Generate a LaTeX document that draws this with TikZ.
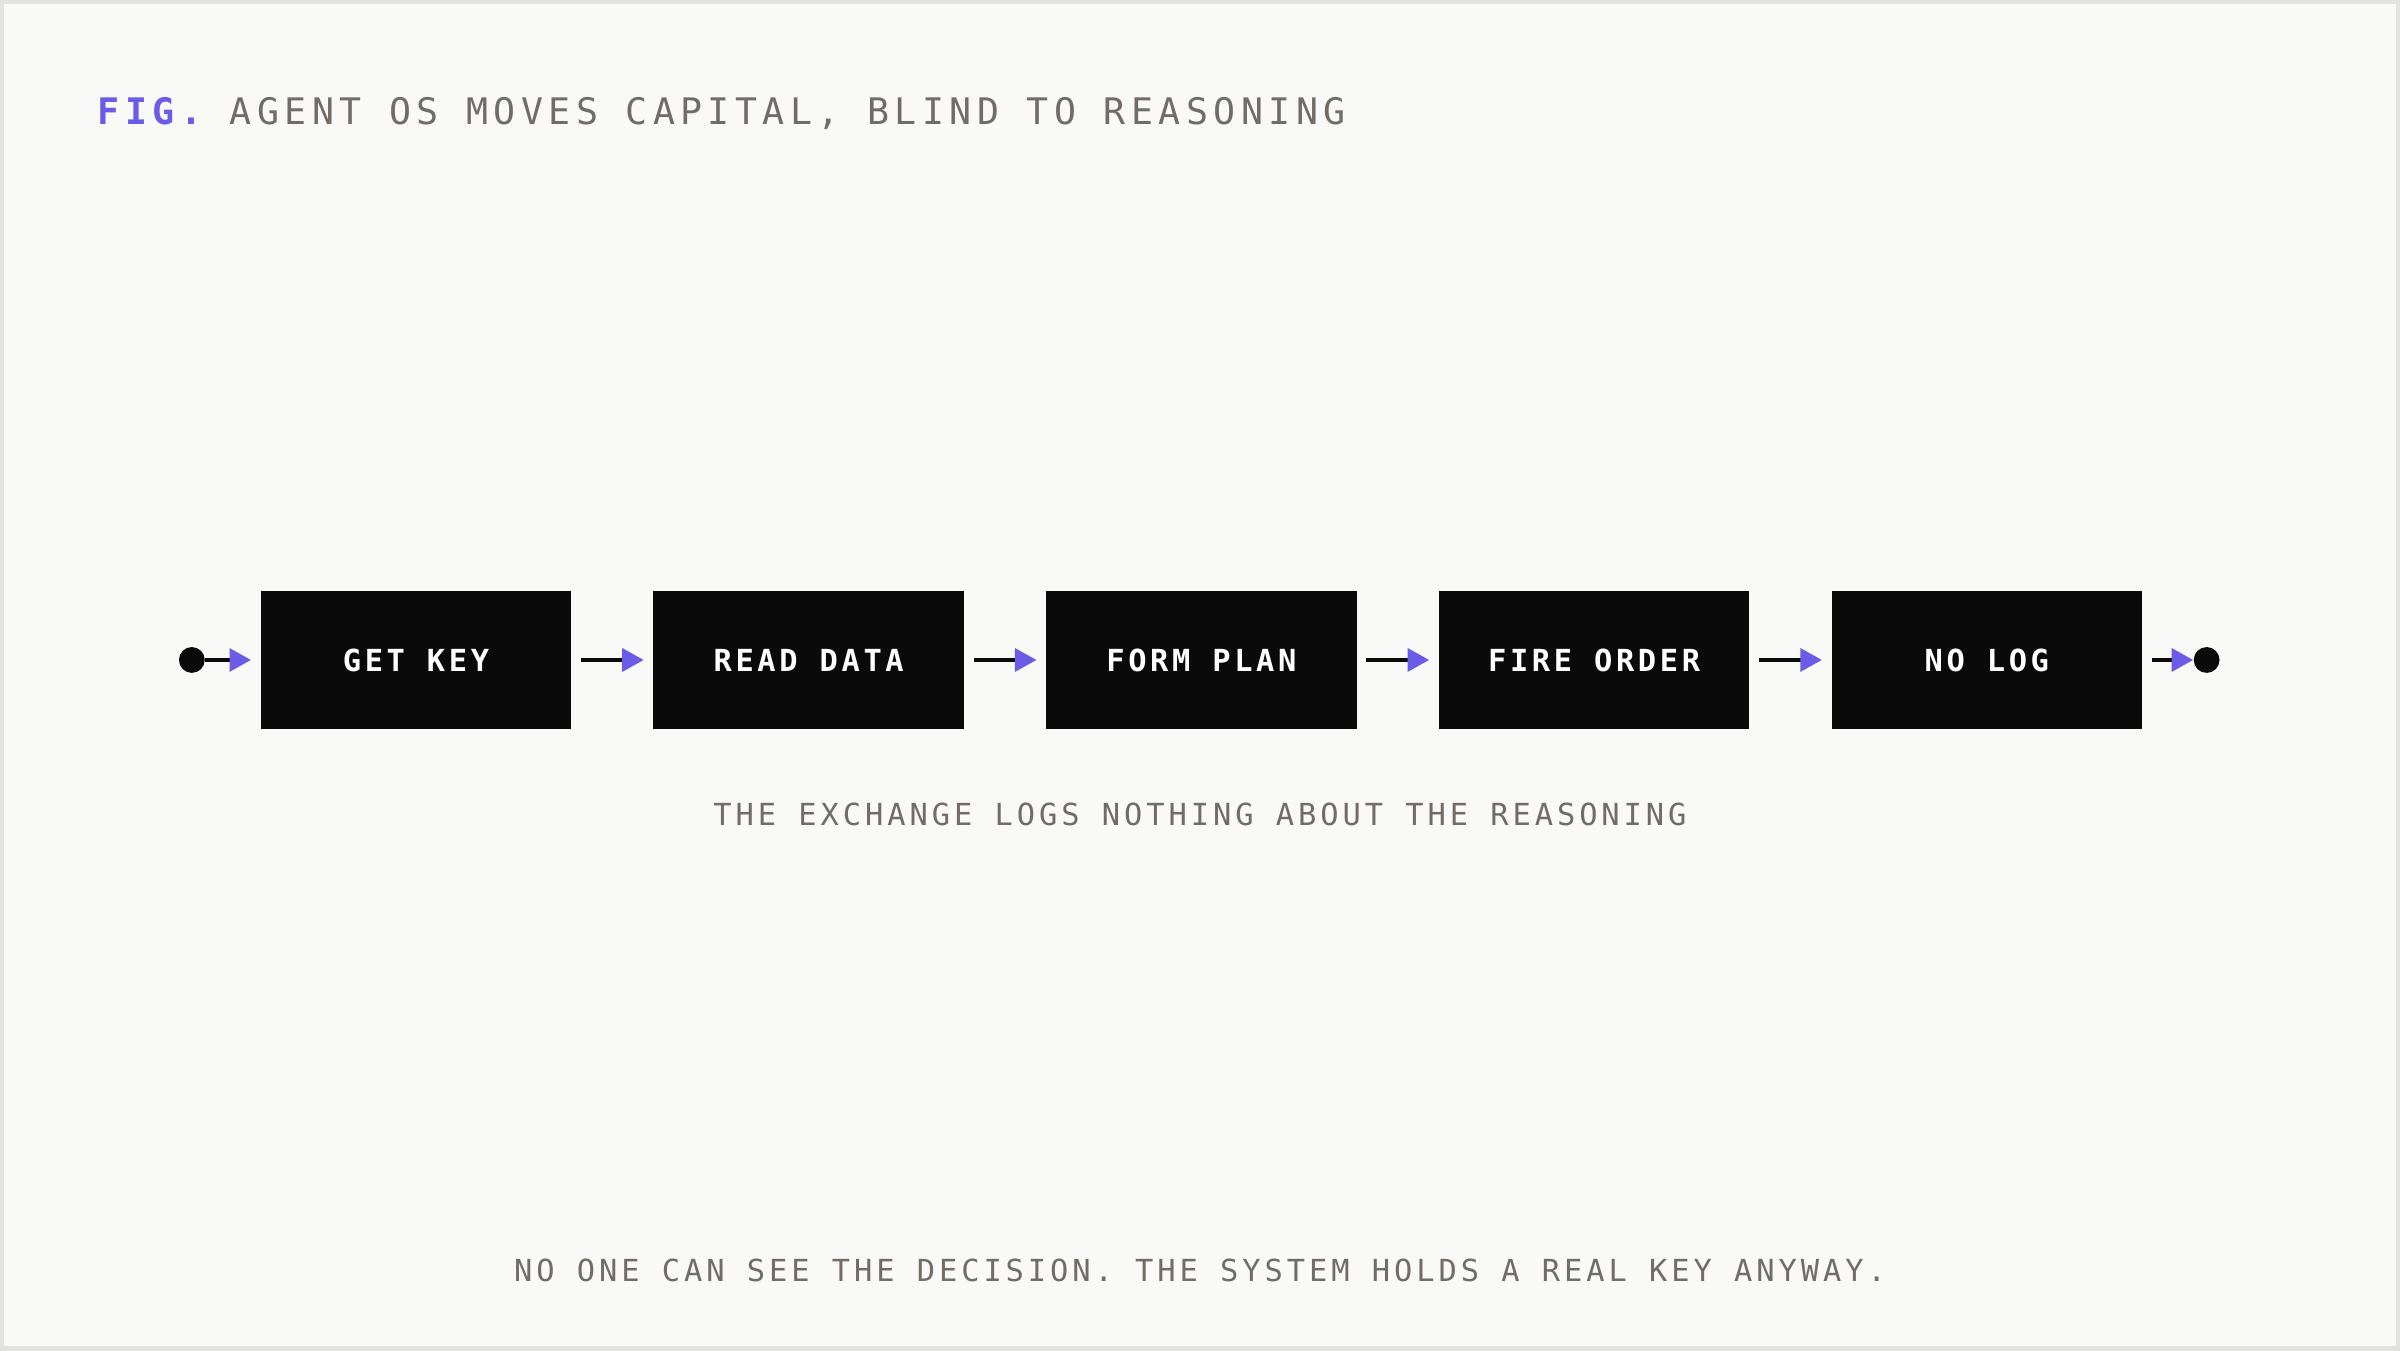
\documentclass[tikz,border=0pt]{standalone}
\usepackage{fontspec}
\setmonofont{DejaVu Sans Mono}
\newfontfamily\titlefont[LetterSpace=15]{DejaVu Sans Mono}
\newfontfamily\boxfont[LetterSpace=12]{DejaVu Sans Mono}
\newfontfamily\notefont[LetterSpace=13]{DejaVu Sans Mono}
\usetikzlibrary{positioning}
\usetikzlibrary{arrows.meta}
\definecolor{accent}{HTML}{6B5CE7}
\definecolor{ink}{HTML}{0A0A0A}
\definecolor{note}{HTML}{726C67}
\definecolor{paper}{HTML}{F9F9F7}
\definecolor{frame}{HTML}{E2E2E0}

\begin{document}
\begin{tikzpicture}[x=0.2mm, y=-0.2mm,
  stage/.style={fill=ink, text=white, minimum width=40.6mm, minimum height=18mm,
    inner sep=0pt, font=\boxfont\fontsize{11.3}{13}\selectfont\bfseries},
  dot/.style={circle, fill=ink, minimum size=9.6pt, inner sep=0pt},
  flow/.style={line width=1.4pt, draw=ink, -{Triangle[length=8pt, width=8.5pt, color=accent]}},
  node distance=10.6mm]

% Page and frame
\fill[paper] (0,0) rectangle (1568,882);
\draw[frame, line width=1.6pt] (1,1) rectangle (1567,881);
\useasboundingbox (0,0) rectangle (1568,882);

% Title
\node[anchor=base west, inner sep=0pt, text=note, font=\titlefont\fontsize{13.6}{16}\selectfont]
  (title) at (63,81) {\textcolor{accent}{\bfseries FIG.} AGENT OS MOVES CAPITAL, BLIND TO REASONING};

% The pipeline
\node[stage] (key) at (271.5,431) {GET KEY};
\node[stage, right=of key] (data) {READ DATA};
\node[stage, right=of data] (plan) {FORM PLAN};
\node[stage, right=of plan] (order) {FIRE ORDER};
\node[stage, right=of order] (nolog) {NO LOG};
\node[dot] (start) at (125,431) {};
\node[dot] (stop) at (1442,431) {};

\draw[flow, shorten >=3.4pt] (start) -- (key);
\foreach \a/\b in {key/data, data/plan, plan/order, order/nolog}
  \draw[flow, shorten <=3.4pt, shorten >=3.4pt] (\a) -- (\b);
\draw[flow, shorten <=3.4pt] (nolog) -- (stop);

% Notes
\node[anchor=base, inner sep=0pt, text=note, font=\notefont\fontsize{11.3}{13}\selectfont]
  (sub) at (784,539) {THE EXCHANGE LOGS NOTHING ABOUT THE REASONING};
\node[anchor=base, inner sep=0pt, text=note, font=\notefont\fontsize{11.3}{13}\selectfont]
  (foot) at (784,837) {NO ONE CAN SEE THE DECISION. THE SYSTEM HOLDS A REAL KEY ANYWAY.};

\end{tikzpicture}
\end{document}
